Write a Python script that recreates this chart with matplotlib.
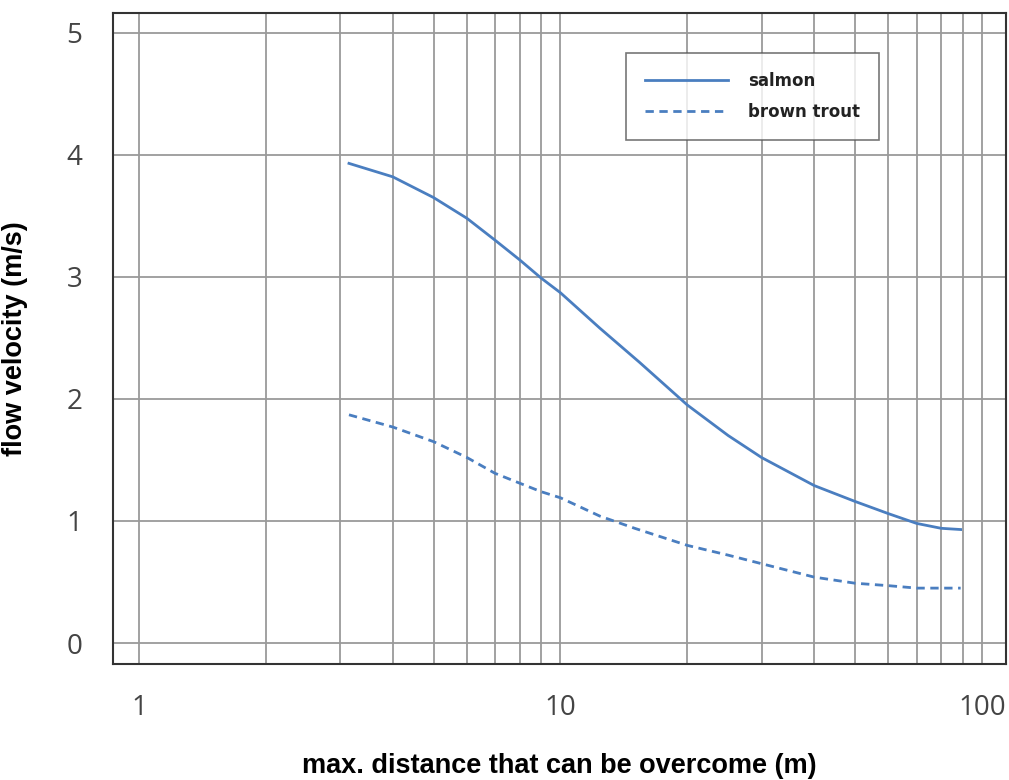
import matplotlib
matplotlib.use("Agg")
import matplotlib.pyplot as plt
from matplotlib.ticker import FixedLocator, NullFormatter

# values
distance_salmon = [3.15, 4, 5, 6, 7, 8, 9, 10, 12.4, 15.4, 20, 25, 30, 40, 50, 60, 70, 80, 89]
velocity_salmon = [3.93, 3.82, 3.65, 3.48, 3.30, 3.14, 2.99, 2.87, 2.58, 2.30, 1.95, 1.70,
                   1.52, 1.29, 1.16, 1.06, 0.98, 0.94, 0.93]

distance_trout = [3.15, 4, 5, 6, 7, 8, 9, 10, 12.4, 15, 20, 25, 30, 40, 50, 60, 70, 89]
velocity_trout = [1.87, 1.77, 1.65, 1.52, 1.39, 1.31, 1.24, 1.19, 1.04, 0.94, 0.80, 0.72,
                  0.65, 0.54, 0.49, 0.47, 0.45, 0.45]

x_ticks = [1, 10, 100]
x_minor = [2, 3, 4, 5, 6, 7, 8, 9, 20, 30, 40, 50, 60, 70, 80, 90]
y_ticks = [0, 1, 2, 3, 4, 5]

line_color = "#4a7ec0"
grid_color = "#9a9a9a"

fig = plt.figure(figsize=(10.09, 7.80), dpi=100)
ax = fig.add_axes([0.112, 0.149, 0.885, 0.834])

ax.plot(distance_salmon, velocity_salmon, color=line_color, lw=2.0, label="salmon")
ax.plot(distance_trout, velocity_trout, color=line_color, lw=2.0,
        linestyle=(0, (3, 2)), label="brown trout")

ax.set_xscale("log")
ax.set_xlim(0.868, 114)
ax.set_ylim(-0.17, 5.16)

ax.xaxis.set_major_locator(FixedLocator(x_ticks))
ax.set_xticklabels([str(t) for t in x_ticks])
ax.xaxis.set_minor_locator(FixedLocator(x_minor))
ax.xaxis.set_minor_formatter(NullFormatter())
ax.set_yticks(y_ticks)

ax.grid(True, which="both", axis="x", color=grid_color, lw=1.3)
ax.grid(True, which="major", axis="y", color=grid_color, lw=1.3)
ax.set_axisbelow(True)

ax.tick_params(which="both", length=0)
ax.tick_params(axis="x", pad=22, labelsize=20, labelcolor="#444444")
ax.tick_params(axis="y", pad=22, labelsize=20, labelcolor="#444444")
for lab in ax.get_xticklabels() + ax.get_yticklabels():
    lab.set_fontfamily("Open Sans")

for sp in ax.spines.values():
    sp.set_color("#333333")
    sp.set_linewidth(1.5)

label_font = dict(family=["Liberation Sans Narrow", "DejaVu Sans Condensed", "Liberation Sans"],
                  weight="bold", size=19.5)
ax.set_xlabel("max. distance that can be overcome (m)", labelpad=22, **label_font)
ax.set_ylabel("flow velocity (m/s)", labelpad=28, **label_font)

leg = ax.legend(loc="upper left", bbox_to_anchor=(0.574, 0.939), frameon=True,
                fancybox=False, edgecolor="#555555", handlelength=5.0,
                handletextpad=1.2, borderpad=1.15, labelspacing=0.75,
                borderaxespad=0,
                prop=dict(family="DejaVu Sans", weight="bold", size=12))
leg.get_frame().set_linewidth(1.2)
for t in leg.get_texts():
    t.set_color("#222222")

fig.savefig("out.png", dpi=100)
